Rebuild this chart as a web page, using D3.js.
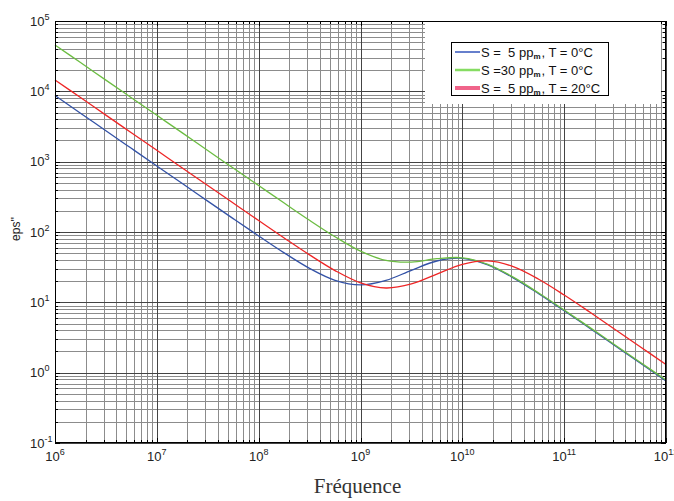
<!DOCTYPE html>
<html><head><meta charset="utf-8">
<script src="https://cdn.jsdelivr.net/npm/d3@7"></script>
<style>body{margin:0;background:#fff}svg{display:block}</style>
</head><body>
<svg id="c" width="674" height="501"></svg>
<script>
// ---- data ----
const freq = [1e6,1.78e6,3.16e6,5.62e6,1e7,1.78e7,3.16e7,5.62e7,1e8,1.78e8,3.16e8,5.62e8,
  1e9,1.78e9,3.16e9,5.62e9,1e10,1.78e10,3.16e10,5.62e10,1e11,1.78e11,3.16e11,5.62e11,1e12];
const blueVals  = [8700,4892,2751,1547,870,489,275,155,87.9,50.5,30.4,20.6,
  17.7,20.5,28.5,38.7,42.2,34.1,22.3,13.25,7.58,4.29,2.41,1.36,0.764];
const greenVals = [45600,25643,14420,8109,4560,2564,1442,811,457,258,146.7,85.6,
  53.5,39.4,37.3,41.7,43.0,34.7,22.8,13.58,7.78,4.40,2.48,1.395,0.785];
const redVals   = [14500,8154,4585,2578,1450,815,458.5,258,145.4,82.3,47.3,28.3,
  18.95,16.0,18.25,25.2,34.7,38.8,32.2,21.3,12.7,7.28,4.12,2.32,1.307];
const xTickExps = [6,7,8,9,10,11,12];
const yTickExps = [-1,0,1,2,3,4,5];
const seriesNames = ["blue","green","red"];
const legendPre  = ["S =  5 pp","S =30 pp","S =  5 pp"];
const legendPost = [", T = 0°C",", T = 0°C",", T = 20°C"];
const xLabel = "Fréquence";
const yLabel = "eps''";

// ---- layout / style ----
const L=55, R=666, T=21, B=443;
const curveColors = {blue:"#3352a6", green:"#6cbd42", red:"#ee2626"};
const legendColors = {blue:"#3355bb", green:"#86dc62", red:"#f0648a"};
const legendWidths = {blue:1.5, green:2.5, red:4};
const svg = d3.select("#c");
const x = d3.scaleLog().domain([1e6,1e12]).range([L,R]);
const y = d3.scaleLog().domain([1e-1,1e5]).range([B,T]);
const isMajor = v => Math.abs(Math.log10(v) - Math.round(Math.log10(v))) < 1e-9;
const xAll = x.ticks(), yAll = y.ticks();
const xMinor = xAll.filter(v=>!isMajor(v)), xMajor = xAll.filter(isMajor);
const yMinor = yAll.filter(v=>!isMajor(v)), yMajor = yAll.filter(isMajor);

function grid(g, color){
  g.select(".domain").remove();
  g.selectAll("line").attr("stroke", color).attr("stroke-width",1).attr("shape-rendering","crispEdges");
}
// grid lines
svg.append("g").attr("transform",`translate(0,${B})`)
  .call(d3.axisBottom(x).tickValues(xMinor).tickSize(-(B-T)).tickFormat(""))
  .call(g=>grid(g,"#8c8c8c"));
svg.append("g").attr("transform",`translate(${L},0)`)
  .call(d3.axisLeft(y).tickValues(yMinor).tickSize(-(R-L)).tickFormat(""))
  .call(g=>grid(g,"#8c8c8c"));
svg.append("g").attr("transform",`translate(0,${B})`)
  .call(d3.axisBottom(x).tickValues(xMajor).tickSize(-(B-T)).tickFormat(""))
  .call(g=>grid(g,"#444"));
svg.append("g").attr("transform",`translate(${L},0)`)
  .call(d3.axisLeft(y).tickValues(yMajor).tickSize(-(R-L)).tickFormat(""))
  .call(g=>grid(g,"#444"));

// inward ticks on all four sides
function ticks(axisFn, scale, vals, size, tr){
  svg.append("g").attr("transform",tr)
    .call(axisFn(scale).tickValues(vals).tickSize(size).tickFormat(""))
    .call(g=>{g.select(".domain").remove();
      g.selectAll("line").attr("stroke","#000").attr("shape-rendering","crispEdges");});
}
ticks(d3.axisBottom,x,xMinor,-3,`translate(0,${B})`);
ticks(d3.axisBottom,x,xMajor,-5,`translate(0,${B})`);
ticks(d3.axisTop,x,xMinor,-3,`translate(0,${T})`);
ticks(d3.axisTop,x,xMajor,-5,`translate(0,${T})`);
ticks(d3.axisLeft,y,yMinor,-3,`translate(${L},0)`);
ticks(d3.axisLeft,y,yMajor,-5,`translate(${L},0)`);
ticks(d3.axisRight,y,yMinor,-3,`translate(${R},0)`);
ticks(d3.axisRight,y,yMajor,-5,`translate(${R},0)`);

// white legend area hiding the grid
svg.append("rect").attr("x",425).attr("y",T+1).attr("width",661-425).attr("height",104-T-1)
  .attr("fill","#fff");

// curves
const line = d3.line().x(d=>x(d[0])).y(d=>y(d[1])).curve(d3.curveCatmullRom.alpha(0.5));
const seriesData = {blue:blueVals, green:greenVals, red:redVals};
seriesNames.forEach(n=>{
  svg.append("path").datum(freq.map((f,i)=>[f,seriesData[n][i]]))
    .attr("d",line).attr("fill","none").attr("stroke",curveColors[n]).attr("stroke-width",1.3);
});

// axis box
svg.append("rect").attr("x",L+0.5).attr("y",T+0.5).attr("width",R-L-1).attr("height",B-T-1)
  .attr("fill","none").attr("stroke","#000").attr("stroke-width",1).attr("shape-rendering","crispEdges");

// tick labels
const font = "'Liberation Sans', Arial, sans-serif";
xTickExps.forEach(e=>{
  const t = svg.append("text").attr("x",x(Math.pow(10,e))).attr("y",461)
    .attr("text-anchor","middle").attr("font-family",font).attr("font-size",13).attr("fill","#222");
  t.append("tspan").text("10");
  t.append("tspan").attr("dy",-6).attr("font-size",9).text(e);
});
yTickExps.forEach(e=>{
  const t = svg.append("text").attr("x",30).attr("y",y(Math.pow(10,e))+4.5)
    .attr("font-family",font).attr("font-size",13).attr("fill","#222");
  t.append("tspan").text("10");
  t.append("tspan").attr("dy",-6).attr("font-size",9).text(e<0? "-"+(-e) : e);
});

// axis titles
svg.append("text").attr("transform",`translate(20,${(T+B)/2-3}) rotate(-90)`)
  .attr("text-anchor","middle").attr("font-family",font).attr("font-size",12).attr("fill","#222")
  .text(yLabel);
svg.append("text").attr("x",(L+R)/2-3).attr("y",493).attr("text-anchor","middle")
  .attr("font-family","'Liberation Serif', 'DejaVu Serif', serif").attr("font-size",21).attr("fill","#333")
  .text(xLabel);

// legend
const lg = svg.append("g");
lg.append("rect").attr("x",451.5).attr("y",42.5).attr("width",157).attr("height",53)
  .attr("fill","#fff").attr("stroke","#000").attr("stroke-width",1).attr("shape-rendering","crispEdges");
const rowY = [52,70,88];
seriesNames.forEach((n,i)=>{
  lg.append("line").attr("x1",455).attr("x2",480).attr("y1",rowY[i]).attr("y2",rowY[i])
    .attr("stroke",legendColors[n]).attr("stroke-width",legendWidths[n]);
  const t = lg.append("text").attr("x",481).attr("y",rowY[i]+4.5)
    .attr("font-family",font).attr("font-size",13).attr("fill","#111")
    .style("white-space","pre");
  t.append("tspan").text(legendPre[i]);
  t.append("tspan").attr("dy",2).attr("font-size",8).attr("font-weight","bold").text("m");
  t.append("tspan").attr("dy",-2).attr("dx",1).text(legendPost[i]);
});
</script>
</body></html>
